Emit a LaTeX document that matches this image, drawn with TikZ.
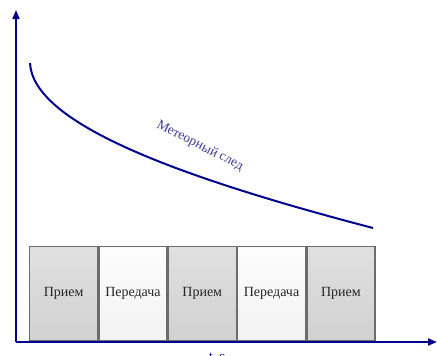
\documentclass[tikz,border=0pt]{standalone}
\usepackage{fontspec}
\setmainfont{Liberation Serif}
\usetikzlibrary{arrows.meta}
\definecolor{axis}{HTML}{00008B}
\definecolor{lbl}{HTML}{3A3A95}
\tikzset{
  axisline/.style={draw=axis, line width=2pt, -{Triangle[length=9pt,width=7pt]}},
  rx/.style={draw=gray!85!black, line width=1.3pt, top color=gray!24, bottom color=gray!36, minimum width=68pt, minimum height=94pt, inner sep=0pt, font=\fontsize{14}{16}\selectfont, text=black!85},
  tx/.style={rx, top color=white!98!gray, bottom color=gray!10},
}
\begin{document}
\begin{tikzpicture}[x=1pt,y=-1pt]
\useasboundingbox (0,0) rectangle (437,356);
\coordinate (o) at (16,342);
\coordinate (ytop) at (16,10);
\coordinate (xend) at (437,342);
\coordinate (cs) at (30,63);
\coordinate (ce) at (373,228);
\node[rx, anchor=south west] (b1) at (29,341) {Прием};
\node[tx, anchor=west] (b2) at (b1.east) {Передача};
\node[rx, anchor=west] (b3) at (b2.east) {Прием};
\node[tx, anchor=west] (b4) at (b3.east) {Передача};
\node[rx, anchor=west] (b5) at (b4.east) {Прием};
\draw[axisline] (o) -- (ytop);
\draw[axisline] (o) -- (xend);
\draw[draw=axis, line width=2pt] (cs) .. controls (33,122) and (170,175) .. (ce);
\node[text=lbl, rotate=-27, font=\fontsize{13.5}{15}\selectfont] (lab) at (200,146) {Метеорный след};
\node[text=axis, anchor=base, font=\fontsize{13}{15}\selectfont] (t) at (217,360) {t, c};
\end{tikzpicture}
\end{document}
